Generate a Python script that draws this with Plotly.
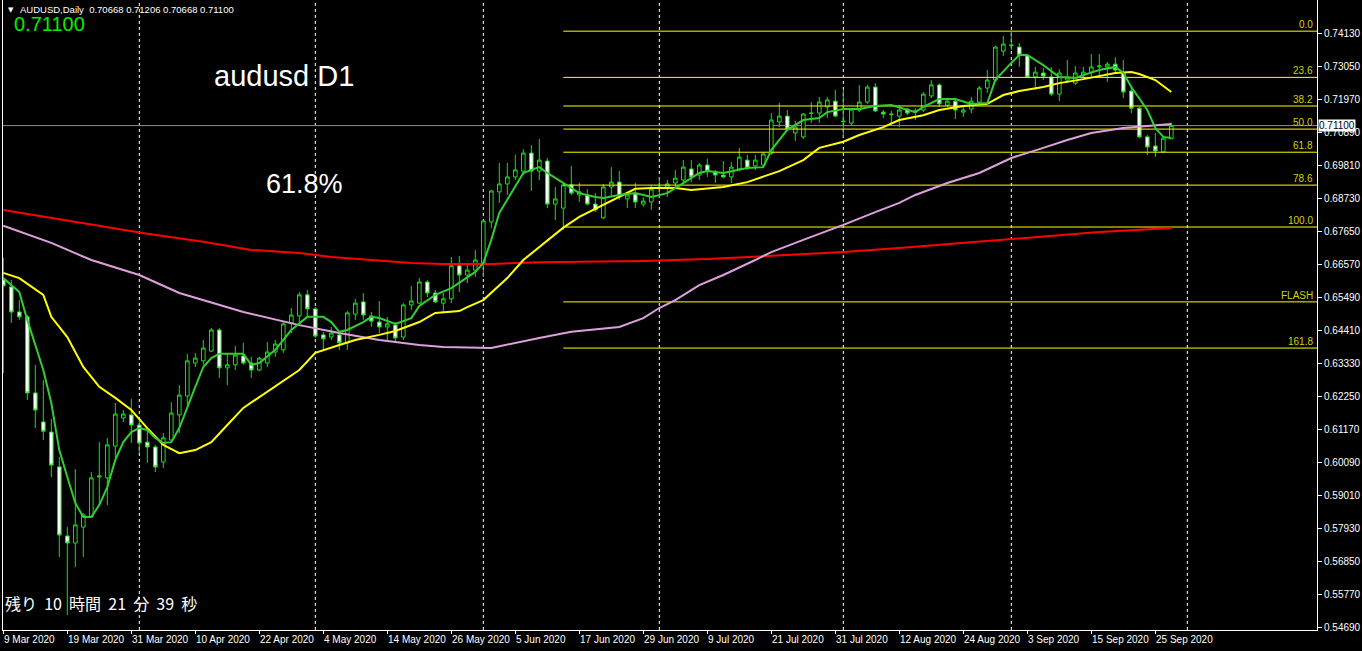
import pandas as pd
import plotly.graph_objects as go

# ---------------- data ----------------
start_date = "2020-03-09"
n_bars = 147
dates = pd.bdate_range(start_date, periods=170)

opens = [.6605,.6582,.6500,.6484,.6235,.6140,.6107,.5993,.5767,.5744,
         .5796,.5829,.5960,.5957,.6061,.6153,.6163,.6130,.6074,.6058,
         .6009,.6081,.6163,.6225,.6333,.6340,.6372,.6441,.6317,.6327,
         .6356,.6333,.6310,.6333,.6369,.6376,.6464,.6487,.6556,.6510,
         .6425,.6418,.6425,.6399,.6493,.6533,.6487,.6467,.6451,.6457,
         .6418,.6523,.6529,.6598,.6562,.6529,.6543,.6651,.6621,.6637,
         .6660,.6795,.6893,.6919,.6942,.6961,.7020,.6961,.6994,.6853,
         .6840,.6916,.6883,.6883,.6853,.6808,.6909,.6925,.6870,.6886,
         .6853,.6860,.6909,.6909,.6922,.6932,.6968,.6948,.6981,.6958,
         .6948,.6942,.6968,.6997,.6978,.6981,.7020,.7122,.7141,.7086,
         .7073,.7151,.7151,.7171,.7190,.7125,.7118,.7161,.7187,.7236,
         .7154,.7148,.7141,.7164,.7154,.7161,.7207,.7243,.7177,.7190,
         .7154,.7164,.7187,.7233,.7259,.7354,.7374,.7367,.7338,.7269,
         .7282,.7269,.7213,.7259,.7249,.7275,.7285,.7302,.7302,.7311,
         .7282,.7223,.7167,.7073,.7043,.7024,.70668]
highs = [.6677,.6605,.6539,.6490,.6327,.6277,.6150,.6025,.5796,.5986,
         .5842,.5976,.6074,.6088,.6202,.6179,.6215,.6146,.6114,.6065,
         .6104,.6205,.6261,.6363,.6366,.6408,.6448,.6448,.6366,.6389,
         .6399,.6353,.6353,.6402,.6408,.6467,.6513,.6565,.6572,.6516,
         .6435,.6451,.6435,.6503,.6543,.6562,.6500,.6536,.6484,.6467,
         .6529,.6585,.6611,.6605,.6572,.6562,.6680,.6683,.6654,.6703,
         .6801,.6899,.6988,.6988,.7014,.7033,.7046,.7066,.7004,.6909,
         .6922,.6978,.6922,.6902,.6889,.6919,.6974,.6961,.6893,.6922,
         .6876,.6916,.6942,.6932,.6965,.6997,.6997,.6988,.7001,.6965,
         .6994,.6991,.7037,.7014,.7014,.7024,.7151,.7184,.7161,.7125,
         .7151,.7187,.7204,.7204,.7227,.7227,.7167,.7243,.7243,.7249,
         .7161,.7158,.7177,.7167,.7167,.7220,.7259,.7249,.7200,.7200,
         .7177,.7204,.7240,.7292,.7371,.7403,.7416,.7380,.7341,.7302,
         .7299,.7302,.7295,.7325,.7305,.7302,.7344,.7344,.7318,.7334,
         .7325,.7236,.7171,.7079,.7086,.7069,.71206]
lows = [.6300,.6464,.6474,.6212,.6120,.6081,.5960,.5698,.5508,.5665,
        .5698,.5826,.5868,.5868,.6022,.6140,.6071,.6038,.6006,.5976,
        .5989,.6074,.6104,.6196,.6320,.6327,.6369,.6284,.6261,.6310,
        .6327,.6284,.6307,.6320,.6353,.6366,.6431,.6457,.6484,.6415,
        .6376,.6408,.6376,.6376,.6474,.6474,.6451,.6431,.6405,.6402,
        .6408,.6506,.6526,.6549,.6529,.6500,.6529,.6565,.6594,.6614,
        .6614,.6775,.6857,.6883,.6932,.6948,.6896,.6932,.6840,.6801,
        .6768,.6883,.6860,.6850,.6827,.6804,.6876,.6867,.6840,.6840,
        .6844,.6834,.6876,.6876,.6909,.6922,.6925,.6932,.6942,.6922,
        .6938,.6922,.6961,.6965,.6965,.6971,.7014,.7105,.7096,.7060,
        .7066,.7118,.7118,.7135,.7138,.7073,.7112,.7154,.7181,.7154,
        .7135,.7112,.7105,.7145,.7128,.7154,.7200,.7171,.7171,.7131,
        .7138,.7151,.7184,.7217,.7253,.7338,.7357,.7302,.7266,.7227,
        .7259,.7207,.7190,.7249,.7243,.7266,.7269,.7269,.7253,.7285,
        .7200,.7151,.7069,.7014,.7007,.7020,.70668]
closes = [.6585,.6500,.6484,.6235,.6179,.6110,.5999,.5770,.5744,.5803,
          .5836,.5957,.5963,.6065,.6166,.6166,.6130,.6071,.6058,.5993,
          .6088,.6169,.6228,.6340,.6349,.6382,.6441,.6317,.6327,.6359,
          .6333,.6310,.6349,.6369,.6395,.6461,.6490,.6556,.6510,.6421,
          .6412,.6431,.6399,.6497,.6529,.6490,.6470,.6451,.6461,.6415,
          .6523,.6536,.6598,.6562,.6533,.6543,.6651,.6621,.6637,.6670,
          .6798,.6896,.6919,.6942,.6965,.7020,.6961,.6997,.6853,.6870,
          .6916,.6889,.6893,.6853,.6834,.6909,.6925,.6880,.6883,.6860,
          .6863,.6902,.6907,.6919,.6938,.6974,.6942,.6981,.6961,.6948,
          .6942,.6974,.7007,.6971,.6997,.7017,.7128,.7141,.7099,.7105,
          .7148,.7150,.7187,.7194,.7141,.7123,.7164,.7187,.7236,.7158,
          .7148,.7146,.7161,.7151,.7158,.7213,.7243,.7181,.7190,.7161,
          .7161,.7190,.7233,.7259,.7367,.7377,.7372,.7341,.7269,.7285,
          .7272,.7213,.7282,.7269,.7282,.7285,.7302,.7305,.7311,.7292,
          .7220,.7167,.7073,.7040,.7027,.7069,.71100]

# moving averages (bar index, price)
green_idx = [0,2,3,5,6,7,8,9,10,11,12,13,14,15,16,17,18,19,20,21,22,23,24,25,26,27,30,31,32,34,
             36,38,40,41,42,43,45,46,47,49,51,52,54,56,57,59,60,61,62,64,65,66,67,68,70,72,74,75,77,79,
             81,83,85,87,88,90,93,95,96,98,100,102,103,105,107,109,111,114,115,117,119,121,123,124,126,127,128,130,132,134,
             135,137,139,140,141,143,144,145,146]
green_ma = [.6611,.6565,.6474,.6310,.6202,.6048,.5960,.5875,.5829,.5829,.5868,.5927,.6016,.6074,.6107,.6120,.6114,.6088,.6071,.6074,
            .6120,.6189,.6255,.6320,.6349,.6363,.6363,.6327,.6333,.6376,.6441,.6484,.6484,.6467,.6435,.6441,.6467,.6484,.6480,.6461,
            .6480,.6520,.6556,.6578,.6595,.6631,.6660,.6736,.6824,.6909,.6955,.6965,.6974,.6955,.6922,.6889,.6876,.6873,.6883,.6889,
            .6876,.6889,.6922,.6955,.6961,.6955,.6971,.6974,.7030,.7096,.7128,.7135,.7154,.7164,.7164,.7174,.7177,.7154,.7171,.7197,
            .7197,.7181,.7184,.7259,.7315,.7341,.7341,.7308,.7269,.7266,.7275,.7292,.7302,.7282,.7236,.7161,.7102,.7073,.7069]
yellow_idx = [0,2,5,6,8,10,12,14,16,18,20,22,24,26,28,30,37,39,42,44,47,49,52,54,57,58,60,63,65,67,
              70,72,75,77,79,81,84,86,87,90,93,95,97,100,102,105,107,110,112,115,117,120,123,125,127,130,132,135,137,139,
              141,142,144,146]
yellow_ma = [.6628,.6611,.6556,.6484,.6418,.6320,.6255,.6219,.6179,.6120,.6065,.6038,.6048,.6074,.6130,.6186,.6310,.6366,.6392,.6408,
             .6425,.6438,.6467,.6497,.6503,.6516,.6539,.6611,.6670,.6712,.6776,.6811,.6850,.6876,.6903,.6906,.6906,.6899,.6902,.6909,
             .6925,.6942,.6961,.6997,.7037,.7057,.7079,.7105,.7128,.7144,.7161,.7174,.7181,.7210,.7223,.7236,.7249,.7262,.7272,.7282,
             .7285,.7279,.7259,.7220]
pink_idx = [0,6,11,17,22,30,37,42,47,52,55,61,67,71,77,80,82,84,87,90,94,96,100,105,109,112,114,118,122,126,
            130,133,136,140,143,146]
pink_ma = [.6782,.6726,.6670,.6621,.6562,.6500,.6457,.6431,.6408,.6392,.6385,.6382,.6415,.6435,.6451,.6480,.6513,.6539,.6588,.6621,
           .6670,.6696,.6736,.6785,.6827,.6857,.6883,.6922,.6955,.7004,.7037,.7063,.7086,.7102,.7109,.7115]
red_idx = [0,12,18,25,31,37,41,46,51,55,61,67,80,88,96,105,112,125,137,146]
red_ma = [.6834,.6782,.6756,.6730,.6703,.6693,.6680,.6670,.6660,.6657,.6657,.6663,.6667,.6673,.6683,.6696,.6709,.6736,.6762,.6775]

# Fibonacci retracement
fib_high = 0.7419
fib_low = 0.6778
fib_pcts = [0.0, 23.6, 38.2, 50.0, 61.8, 78.6, 100.0, 161.8]
fib_texts = ["0.0", "23.6", "38.2", "50.0", "61.8", "78.6", "100.0", "161.8"]
flash_level = 0.6533
fib_start_date = "2020-06-15"

# axes
price_ticks = [0.54690, 0.55770, 0.56850, 0.57930, 0.59010, 0.60090, 0.61170, 0.62250, 0.63330,
               0.64410, 0.65490, 0.66570, 0.67650, 0.68730, 0.69810, 0.70890, 0.71970, 0.73050, 0.74130]
tick_dates = ["2020-03-09", "2020-03-19", "2020-03-31", "2020-04-10", "2020-04-22", "2020-05-04",
              "2020-05-14", "2020-05-26", "2020-06-05", "2020-06-17", "2020-06-29", "2020-07-09",
              "2020-07-21", "2020-07-31", "2020-08-12", "2020-08-24", "2020-09-03", "2020-09-15", "2020-09-25"]
tick_labels = ["9 Mar 2020", "19 Mar 2020", "31 Mar 2020", "10 Apr 2020", "22 Apr 2020", "4 May 2020",
               "14 May 2020", "26 May 2020", "5 Jun 2020", "17 Jun 2020", "29 Jun 2020", "9 Jul 2020",
               "21 Jul 2020", "31 Jul 2020", "12 Aug 2020", "24 Aug 2020", "3 Sep 2020", "15 Sep 2020", "25 Sep 2020"]
month_starts = ["2020-04-01", "2020-05-01", "2020-06-01", "2020-07-01", "2020-08-03", "2020-09-01", "2020-10-01"]

current_price = 0.71100
header_text = "AUDUSD,Daily  0.70668 0.71206 0.70668 0.71100"
title_text = "audusd D1"
note_text = "61.8%"
timer_parts = ["残り", "10", "時間", "21", "分", "39", "秒"]

# ---------------- figure ----------------
def idx_of(d):
    return int(dates.get_loc(pd.Timestamp(d)))

x = list(range(n_bars))
XMIN, XMAX = -0.0375, 164.2125
YMIN, YMAX = 0.54592, 0.75210

fig = go.Figure()

fib_start = idx_of(fib_start_date)
fib_prices = [fib_high - p / 100.0 * (fib_high - fib_low) for p in fib_pcts]
for pr in fib_prices + [flash_level]:
    fig.add_trace(go.Scatter(x=[fib_start, XMAX], y=[pr, pr], mode="lines",
                             line=dict(color="#ffff00", width=1), hoverinfo="skip"))

fig.add_trace(go.Candlestick(
    x=x, open=opens, high=highs, low=lows, close=closes,
    increasing=dict(line=dict(color="#14e014", width=1), fillcolor="#000000"),
    decreasing=dict(line=dict(color="#14e014", width=1), fillcolor="#ffffff"),
    whiskerwidth=0, hoverinfo="x+y"))

for idx, vals, col in [(red_idx, red_ma, "#ff0000"), (pink_idx, pink_ma, "#dda0dd"),
                       (yellow_idx, yellow_ma, "#ffff00"), (green_idx, green_ma, "#32cd32")]:
    fig.add_trace(go.Scatter(x=idx, y=vals, mode="lines", line=dict(color=col, width=2),
                             hoverinfo="skip"))

shapes = []
for d in month_starts:
    i = idx_of(d)
    shapes.append(dict(type="line", xref="x", yref="paper", x0=i, x1=i, y0=0, y1=1,
                       line=dict(color="#ffffff", width=1, dash="3px,3px"), layer="below"))
shapes.append(dict(type="line", xref="paper", yref="y", x0=0, x1=1, y0=current_price, y1=current_price,
                   line=dict(color="#8c8c8c", width=1), layer="below"))

annotations = []
for pr, t in zip(fib_prices + [flash_level], fib_texts + ["FLASH"]):
    annotations.append(dict(xref="paper", yref="y", x=1, y=pr, text=t, showarrow=False,
                            xanchor="right", yanchor="bottom", xshift=-2, yshift=-1,
                            font=dict(family="Liberation Sans", size=10, color="#d4d400")))
for d, t in zip(tick_dates, tick_labels):
    annotations.append(dict(xref="x", yref="paper", x=idx_of(d), y=0, text=t, showarrow=False,
                            xanchor="left", yanchor="top", xshift=-1, yshift=-2,
                            font=dict(family="Liberation Sans", size=10, color="#ffffff")))
annotations.append(dict(xref="paper", yref="y", x=1, y=current_price, text="0.71100", showarrow=False,
                        xanchor="left", yanchor="middle", xshift=1, bgcolor="#ffffff", borderpad=0,
                        font=dict(family="Liberation Sans", size=10, color="#000000")))
W = 1314.0
H = 630.0
def px(xp):
    return (xp - 3) / W
def py(yp):
    return 1 - yp / H
annotations += [
    dict(xref="paper", yref="paper", x=px(6), y=py(10), text="▼", showarrow=False,
         xanchor="left", yanchor="middle", font=dict(family="DejaVu Sans", size=7, color="#ffffff")),
    dict(xref="paper", yref="paper", x=px(18), y=py(10), text=header_text, showarrow=False,
         xanchor="left", yanchor="middle", font=dict(family="Liberation Sans", size=9.5, color="#ffffff")),
    dict(xref="paper", yref="paper", x=px(12), y=py(24), text="0.71100", showarrow=False,
         xanchor="left", yanchor="middle", font=dict(family="Liberation Sans", size=20, color="#00ee00")),
    dict(xref="paper", yref="paper", x=px(212), y=py(76), text=title_text, showarrow=False,
         xanchor="left", yanchor="middle",
         font=dict(family="Liberation Sans", size=29, color="#ffffff")),
    dict(xref="paper", yref="paper", x=px(264), y=py(184), text=note_text, showarrow=False,
         xanchor="left", yanchor="middle",
         font=dict(family="Liberation Sans", size=27, color="#ffffff")),
    dict(xref="paper", yref="paper", x=px(3), y=py(603), text="\u00a0\u00a0".join(timer_parts),
         showarrow=False, xanchor="left", yanchor="middle",
         font=dict(family="Noto Sans CJK JP", size=16, color="#ffffff")),
]

fig.update_layout(
    width=1362, height=651, autosize=False,
    margin=dict(l=3, r=45, t=0, b=21, pad=0),
    paper_bgcolor="#000000", plot_bgcolor="#000000",
    showlegend=False, shapes=shapes, annotations=annotations,
    font=dict(family="Liberation Sans", color="#ffffff"),
    hovermode=False, boxgap=0.35,
)
fig.update_xaxes(range=[XMIN, XMAX], rangeslider_visible=False, showgrid=False, zeroline=False,
                 showline=True, linecolor="#ffffff", linewidth=1,
                 tickmode="array", tickvals=[idx_of(d) for d in tick_dates], ticks="outside",
                 ticklen=3, tickcolor="#ffffff", showticklabels=False, fixedrange=True)
fig.update_yaxes(range=[YMIN, YMAX], side="right", showgrid=False, zeroline=False,
                 showline=True, linecolor="#ffffff", linewidth=1, mirror=True,
                 tickmode="array", tickvals=price_ticks, ticktext=[f"{v:.5f}" for v in price_ticks],
                 ticks="outside", ticklen=4, tickcolor="#ffffff",
                 tickfont=dict(family="Liberation Sans", size=10, color="#ffffff"), fixedrange=True)

fig.write_html("out.html", config={"displayModeBar": False},
               post_script="document.body.style.margin='0px';document.body.style.overflow='hidden';")
